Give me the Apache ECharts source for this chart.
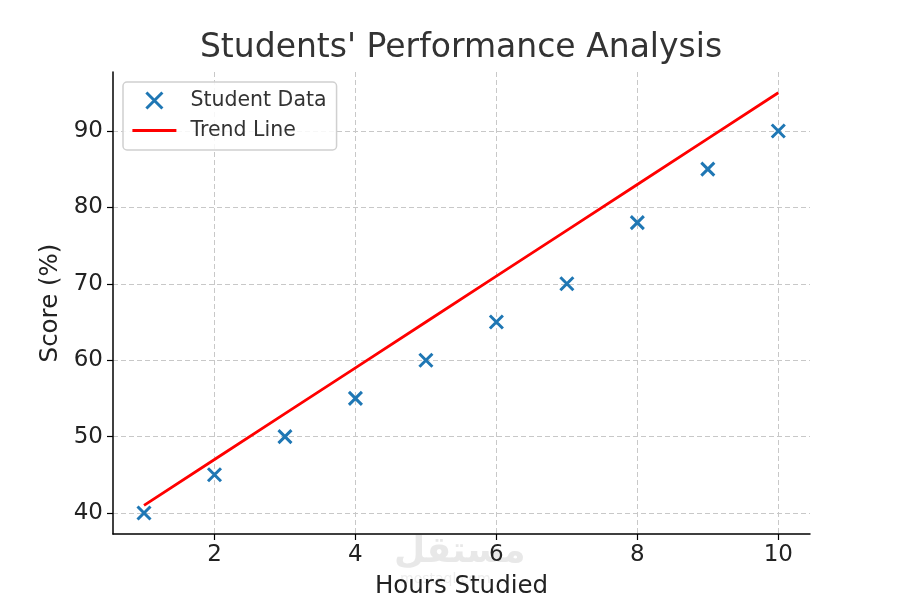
<!DOCTYPE html>
<html><head><meta charset="utf-8">
<script src="https://cdn.jsdelivr.net/npm/echarts@6/dist/echarts.min.js"></script>
<style>html,body{margin:0;padding:0;background:#fff}#c{width:900px;height:600px}</style>
</head><body><div id="c"></div>
<script>
const hours = [1, 2, 3, 4, 5, 6, 7, 8, 9, 10];
const scores = [40, 45, 50, 55, 60, 65, 70, 78, 85, 90];
const trend = [41, 47, 53, 59, 65, 71, 77, 83, 89, 95];
const xTicks = [2, 4, 6, 8, 10];
const yTicks = [40, 50, 60, 70, 80, 90];

const font = 'DejaVu Sans';
const chart = echarts.init(document.getElementById('c'), null, {renderer: 'canvas'});
const axisCommon = {
  axisLine: {show: true, lineStyle: {color: '#000', width: 1.5}},
  axisTick: {show: true, length: 6, inside: false, lineStyle: {color: '#000', width: 1.2}},
  axisLabel: {color: '#222', fontSize: 23, fontFamily: font},
  splitLine: {show: true, lineStyle: {color: '#c8c8c8', type: [5, 3], width: 1}},
  nameTextStyle: {color: '#222', fontSize: 24.5, fontFamily: font}
};
const xSymbol = 'path://M0,0L10,10M10,0L0,10';
chart.setOption({
  animation: false,
  backgroundColor: '#fff',
  grid: {left: 113, right: 90, top: 72, bottom: 66, outerBoundsMode: 'none', containLabel: false},
  legend: {
    left: 123, top: 82, orient: 'vertical', itemGap: 9, padding: [8, 10, 9, 8],
    borderColor: '#d0d0d0', borderWidth: 1.5, borderRadius: 4, backgroundColor: 'rgba(255,255,255,0.85)',
    itemWidth: 44, itemHeight: 16,
    textStyle: {fontFamily: font, fontSize: 20.5, color: '#333', padding: [0, 0, 0, 9]},
    data: [
      {name: 'Student Data', icon: xSymbol,
        itemStyle: {color: 'rgba(0,0,0,0)', borderColor: '#1f77b4', borderWidth: 3}},
      {name: 'Trend Line', itemStyle: {opacity: 0, color: 'rgba(0,0,0,0)', borderWidth: 0},
        lineStyle: {color: '#ff0000', width: 2.8, opacity: 1}}
    ]
  },
  xAxis: Object.assign({}, axisCommon, {
    type: 'value', min: 0.56, max: 10.45,
    axisTick: Object.assign({}, axisCommon.axisTick, {customValues: xTicks}),
    axisLabel: Object.assign({}, axisCommon.axisLabel, {customValues: xTicks, margin: 10}),
    name: 'Hours Studied', nameLocation: 'middle', nameGap: 40
  }),
  yAxis: Object.assign({}, axisCommon, {
    type: 'value', min: 37.25, max: 97.72,
    axisTick: Object.assign({}, axisCommon.axisTick, {customValues: yTicks}),
    axisLabel: Object.assign({}, axisCommon.axisLabel, {customValues: yTicks, margin: 10}),
    name: 'Score (%)', nameLocation: 'middle', nameGap: 46, nameRotate: 90
  }),
  graphic: [
    {type: 'text', x: 461, y: 48, silent: true,
      style: {text: "Students' Performance Analysis", fontSize: 33, fontFamily: font, fill: '#333',
        align: 'center', verticalAlign: 'middle'}},
    {type: 'text', left: 394, top: 535, z: -10, silent: true,
      style: {text: 'مستقل', fontSize: 36, fontWeight: 'bold', fontFamily: 'DejaVu Sans', fill: '#e8e8e8'}},
    {type: 'text', left: 400, top: 572, z: -10, silent: true,
      style: {text: 'mostaql.com', fontSize: 14, fontFamily: 'DejaVu Sans', fill: '#eeeeee'}}
  ],
  series: [
    {
      name: 'Trend Line', type: 'line', data: hours.map((h, i) => [h, trend[i]]),
      showSymbol: false, symbol: 'none', lineStyle: {color: '#ff0000', width: 2.8}, itemStyle: {color: '#ff0000'}, z: 2
    },
    {
      name: 'Student Data', type: 'scatter', data: hours.map((h, i) => [h, scores[i]]),
      symbol: xSymbol, symbolSize: 13,
      itemStyle: {color: 'rgba(0,0,0,0)', borderColor: '#1f77b4', borderWidth: 3, opacity: 1}, z: 3
    }
  ]
});
</script></body></html>
